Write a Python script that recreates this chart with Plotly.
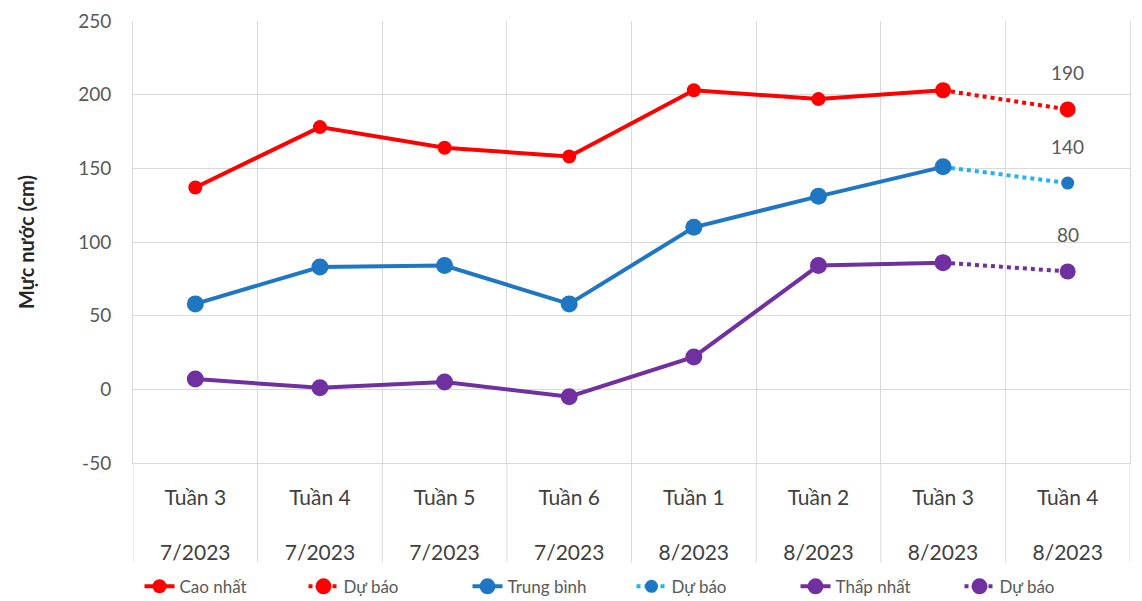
import plotly.graph_objects as go

weeks = ["Tuần 3", "Tuần 4", "Tuần 5", "Tuần 6", "Tuần 1", "Tuần 2", "Tuần 3", "Tuần 4"]
months = ["7/2023", "7/2023", "7/2023", "7/2023", "8/2023", "8/2023", "8/2023", "8/2023"]
categories = [f"{w}<br><br>{m}" for w, m in zip(weeks, months)]

cao_nhat = [137, 178, 164, 158, 203, 197, 203]
trung_binh = [58, 83, 84, 58, 110, 131, 151]
thap_nhat = [7, 1, 5, -5, 22, 84, 86]

du_bao_cao = [203, 190]
du_bao_tb = [151, 140]
du_bao_thap = [86, 80]

y_ticks = [-50, 0, 50, 100, 150, 200, 250]

RED = "#ff0000"
BLUE = "#1f77c4"
LBLUE = "#1fb4ec"
PURPLE = "#7030a0"
GRID = "#d9d9d9"
TXT = "#595959"
FONT = "Lato, 'Open Sans', sans-serif"

fig = go.Figure()

fc_x = categories[6:8]

def forecast(vals, color, mcolor, msize, rank):
    fig.add_trace(go.Scatter(
        x=fc_x, y=vals, name="Dự báo", mode="lines+markers",
        line=dict(color=color, width=4, dash="dot"),
        marker=dict(color=mcolor, size=msize),
        legendrank=rank,
    ))

def main(vals, name, color, msize, rank):
    fig.add_trace(go.Scatter(
        x=categories[:7], y=vals, name=name, mode="lines+markers",
        line=dict(color=color, width=4),
        marker=dict(color=color, size=msize),
        legendrank=rank,
    ))

forecast(du_bao_cao, RED, RED, 16, 2)
forecast(du_bao_tb, LBLUE, BLUE, 13, 4)
forecast(du_bao_thap, PURPLE, PURPLE, 16, 6)
main(cao_nhat, "Cao nhất", RED, 14, 1)
main(trung_binh, "Trung bình", BLUE, 17, 3)
main(thap_nhat, "Thấp nhất", PURPLE, 17, 5)

for vals in (du_bao_cao, du_bao_tb, du_bao_thap):
    fig.add_annotation(x=fc_x[-1], y=vals[-1], text=str(vals[-1]), showarrow=False,
                       yshift=37, font=dict(size=19, color=TXT, family=FONT))

# category separators below the plot area
for i in range(len(categories) + 1):
    fig.add_shape(type="line", xref="x", yref="paper", x0=i - 0.5, x1=i - 0.5,
                  y0=0, y1=-0.225, line=dict(color=GRID, width=1), layer="below")

fig.update_layout(
    width=1142, height=601,
    margin=dict(l=133, r=12, t=21, b=138, autoexpand=False),
    paper_bgcolor="white", plot_bgcolor="white",
    font=dict(family=FONT, color=TXT),
    showlegend=True,
    legend=dict(orientation="h", x=0.5, xanchor="center", y=-0.28, yanchor="middle",
                font=dict(size=17, color=TXT), traceorder="normal",
                entrywidth=119, entrywidthmode="pixels", tracegroupgap=0),
)
fig.update_xaxes(
    type="category", categoryorder="array", categoryarray=categories,
    range=[-0.5, 7.5], tickson="boundaries", showgrid=True, gridcolor=GRID,
    gridwidth=1, ticks="", tickfont=dict(size=21, color="#404040", family=FONT),
    ticklabelstandoff=16, showline=True, linecolor=GRID, zeroline=False,
    automargin=False,
)
fig.update_yaxes(
    range=[-50, 250], tickmode="array", tickvals=y_ticks,
    ticktext=[str(v) for v in y_ticks],
    showgrid=True, gridcolor=GRID, zeroline=False,
    showline=True, linecolor=GRID, mirror=True, automargin=False,
    tickfont=dict(size=19, color=TXT, family=FONT), ticklabelstandoff=17,
    title=dict(text="<b>Mực nước (cm)</b>", font=dict(size=20, color="#262626", family=FONT),
               standoff=38),
)

fig.write_html("out.html", config={"displayModeBar": False},
               post_script="document.body.style.margin='0px';")
